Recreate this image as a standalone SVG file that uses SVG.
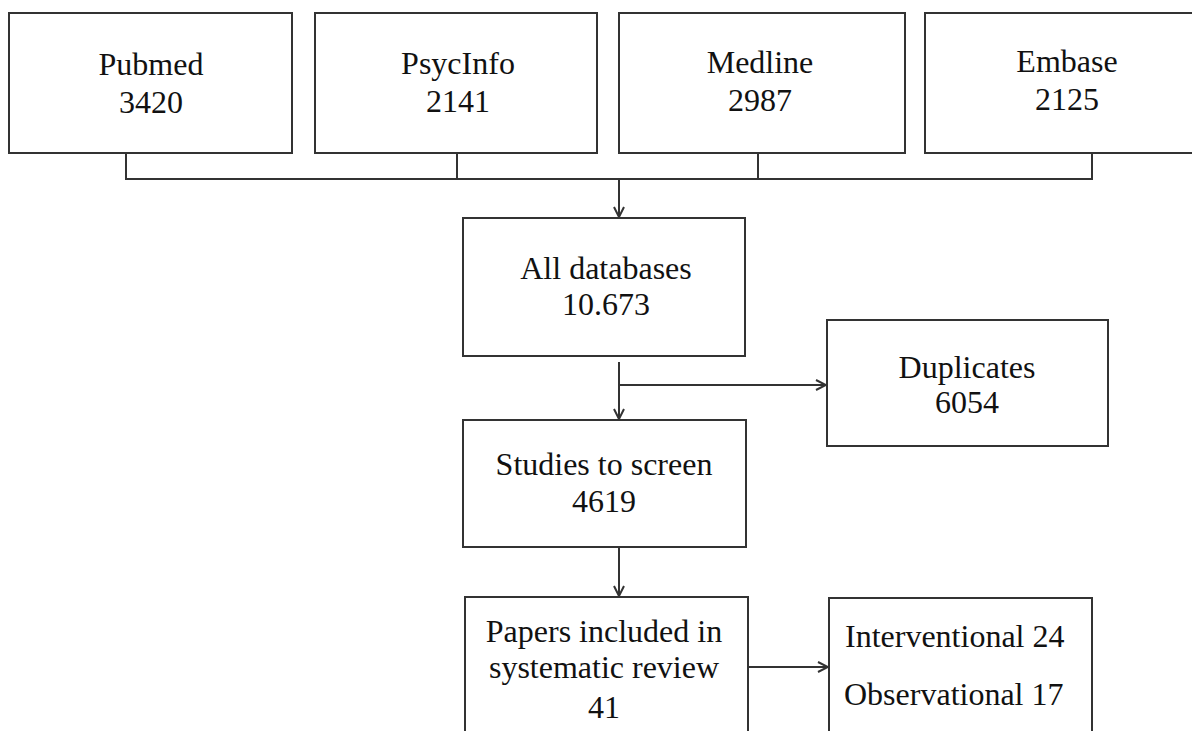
<svg xmlns="http://www.w3.org/2000/svg" width="1192" height="731" viewBox="0 0 1192 731">
<style>
.box{fill:#fff;stroke:#333;stroke-width:2}
.t{font-family:"Liberation Serif","Times New Roman",serif;font-size:32px;fill:#111;text-anchor:middle}
.tl{font-family:"Liberation Serif","Times New Roman",serif;font-size:32px;fill:#111}
.c{fill:none;stroke:#333;stroke-width:2}
</style>
<defs>
<marker id="ah" viewBox="0 0 12 12" refX="11" refY="6" markerWidth="12" markerHeight="12" markerUnits="userSpaceOnUse" orient="auto">
<path d="M1,1 L11,6 L1,11" fill="none" stroke="#333" stroke-width="2"/>
</marker>
</defs>
<rect width="1192" height="731" fill="#fff"/>
<g id="pubmed"><rect class="box" x="9" y="13" width="283" height="140"/><text class="t" x="151" y="75">Pubmed</text><text class="t" x="151" y="113">3420</text></g>
<g id="psycinfo"><rect class="box" x="315" y="13" width="282" height="140"/><text class="t" x="458" y="74">PsycInfo</text><text class="t" x="458" y="112">2141</text></g>
<g id="medline"><rect class="box" x="619" y="13" width="286" height="140"/><text class="t" x="760" y="73">Medline</text><text class="t" x="760" y="111">2987</text></g>
<g id="embase"><rect class="box" x="925" y="13" width="290" height="140"/><text class="t" x="1067" y="72">Embase</text><text class="t" x="1067" y="110">2125</text></g>
<g id="all"><rect class="box" x="463" y="218" width="282" height="138"/><text class="t" x="606" y="279">All databases</text><text class="t" x="606" y="315">10.673</text></g>
<g id="duplicates"><rect class="box" x="827" y="320" width="281" height="126"/><text class="t" x="967" y="378">Duplicates</text><text class="t" x="967" y="413">6054</text></g>
<g id="screen"><rect class="box" x="463" y="420" width="283" height="127"/><text class="t" x="604" y="475">Studies to screen</text><text class="t" x="604" y="512">4619</text></g>
<g id="papers"><rect class="box" x="465" y="597" width="283" height="140"/><text class="t" x="604" y="642">Papers included in</text><text class="t" x="604" y="678">systematic review</text><text class="t" x="604" y="718">41</text></g>
<g id="types"><rect class="box" x="829" y="598" width="263" height="140"/><text class="tl" x="845" y="647">Interventional 24</text><text class="tl" x="844" y="705">Observational 17</text></g>
<g id="connectors">
<path class="c" d="M126,153 V179 H1092 V153 M457,153 V179 M758,153 V179"/>
<path class="c" d="M619,179 V217" marker-end="url(#ah)"/>
<path class="c" d="M619,362 V419" marker-end="url(#ah)"/>
<path class="c" d="M619,385 H826" marker-end="url(#ah)"/>
<path class="c" d="M619,547 V596" marker-end="url(#ah)"/>
<path class="c" d="M748,667 H828" marker-end="url(#ah)"/>
</g>
</svg>
